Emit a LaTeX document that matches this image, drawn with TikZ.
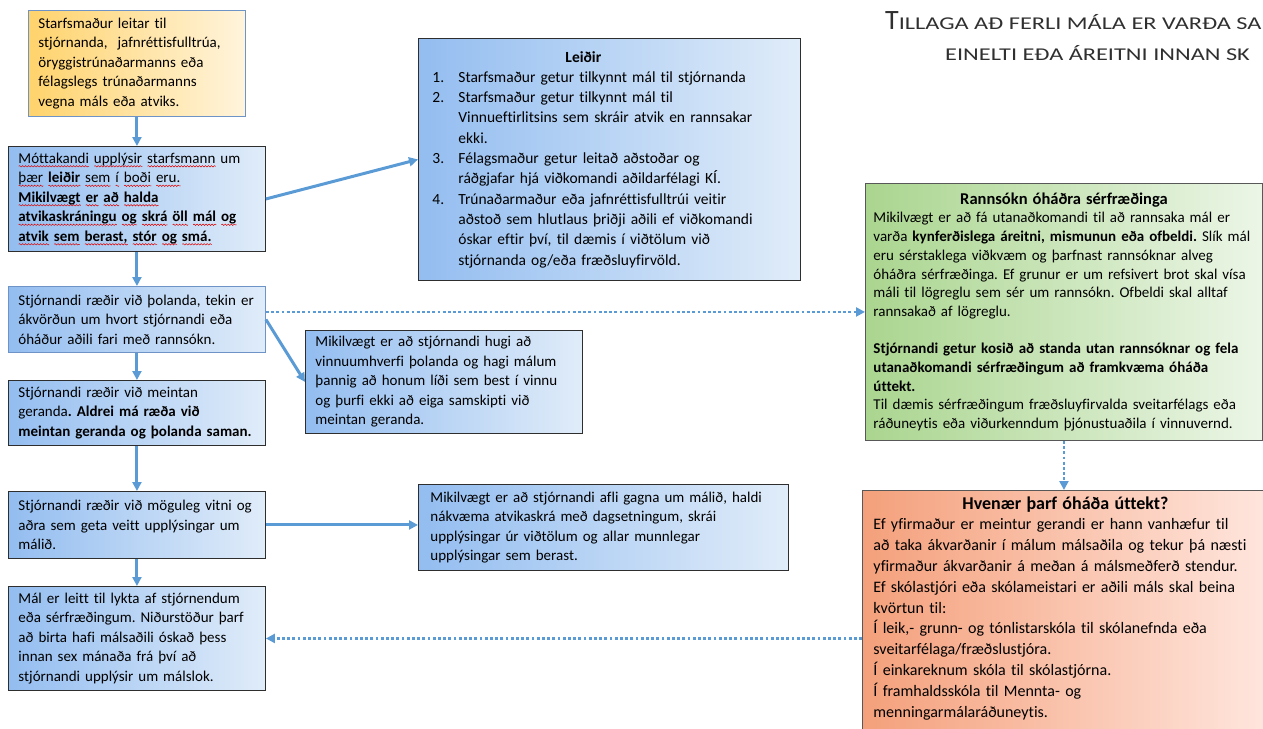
\documentclass[tikz,border=0pt]{standalone}
\usepackage{fontspec}
\setmainfont{Carlito}[Ligatures=NoCommon]
\usetikzlibrary{arrows.meta,decorations.pathmorphing,calc}
\frenchspacing
\definecolor{arrowblue}{HTML}{5B9BD5}
\definecolor{dk}{HTML}{2E2E2E}
\definecolor{bgline}{HTML}{6E93C6}
\definecolor{bL}{HTML}{93BDF0}
\definecolor{bR}{HTML}{E0ECF9}
\definecolor{yL}{HTML}{FFD36C}
\definecolor{yR}{HTML}{FFF4DC}
\definecolor{gL}{HTML}{AAD58F}
\definecolor{gR}{HTML}{ECF6E7}
\definecolor{oL}{HTML}{F4A07B}
\definecolor{oR}{HTML}{FFE6DE}
\definecolor{ttl}{HTML}{303030}
\newsavebox\sqbox
\newlength\sqlen
\newcommand\sq[1]{\sbox\sqbox{#1}\setlength\sqlen{\wd\sqbox}\leavevmode\rlap{\raisebox{-3.2pt}{\tikz[baseline=0pt]\draw[red!85!black,line width=0.5pt,decorate,decoration={snake,amplitude=0.7pt,segment length=3pt}] (0pt,0pt)--(\sqlen,0pt);}}\usebox\sqbox}
\newcommand\rs{\rightskip=0pt plus 1fil minus 30pt\relax}
\newcommand\lf{\frenchspacing\fontsize{15}{19.5}\selectfont}
\newcommand\mf{\frenchspacing\fontsize{15.5}{20.3}\selectfont}
\newcommand\gf{\frenchspacing\fontsize{15}{18.7}\selectfont}
\newcommand\of{\frenchspacing\fontsize{16}{20.8}\selectfont}
\begin{document}
\begin{tikzpicture}[x=1pt,y=-1pt,
  fb/.style={rectangle, line width=0.9pt, align=left, anchor=north west, inner ysep=2pt},
  bluebox/.style={fb, draw=dk, left color=bL, right color=bR},
  arr/.style={draw=arrowblue, line width=3pt, -{Triangle[length=9pt,width=9pt]}},
  dot/.style={draw=arrowblue, line width=2.8pt, dash pattern=on 2.8pt off 2.4pt, -{Triangle[length=9pt,width=9pt]}},
  ttlnode/.style={anchor=base west, inner sep=0pt, text=ttl}]
\useasboundingbox (0,0) rectangle (1263,728);

% title
\node[ttlnode] (T1) at (885,29) {\fontsize{28}{30}\selectfont T\scalebox{1.35}[1]{\fontsize{18}{20}\selectfont ILLAGA AÐ FERLI MÁLA ER VARÐA SA}};
\node[ttlnode] (T2) at (945,60) {\scalebox{1.35}[1]{\fontsize{18}{20}\selectfont EINELTI EÐA ÁREITNI INNAN SK}};

% left column
\node[fb, draw=bgline, left color=yL, right color=yR, font=\lf, inner xsep=10pt, text width=197pt, minimum height=106pt] (A) at (28,10)
 {\rs Starfsmaður leitar til\\ stjórnanda,\ \ jafnréttisfulltrúa,\\ öryggistrúnaðarmanns eða\\ félagslegs trúnaðarmanns\\ vegna máls eða atviks.};

\node[bluebox, font=\lf, inner xsep=10pt, text width=237pt, minimum height=105pt] (B) at (8,146)
 {\rs\sq{Móttakandi} \sq{upplýsir} \sq{starfsmann} um\\
  \sq{þær} \sq{\textbf{leiðir}} \sq{sem} \sq{í} \sq{boði} \sq{eru.}\\
  \sq{\textbf{Mikilvægt}} \sq{\textbf{er}} \sq{\textbf{að}} \sq{\textbf{halda}}\\
  \sq{\textbf{atvikaskráningu}} \sq{\textbf{og}} \sq{\textbf{skrá}} \sq{\textbf{öll}} \sq{\textbf{mál}} \sq{\textbf{og}}\\
  \sq{\textbf{atvik}} \sq{\textbf{sem}} \sq{\textbf{berast,}} \sq{\textbf{stór}} \sq{\textbf{og}} \sq{\textbf{smá.}}};

\node[fb, draw=bgline, left color=bL, right color=bR, font=\lf, inner xsep=10pt, text width=237pt, minimum height=66pt] (C) at (8,286)
 {\rs Stjórnandi ræðir við þolanda, tekin er\\ ákvörðun um hvort stjórnandi eða\\ óháður aðili fari með rannsókn.};

\node[bluebox, font=\lf, inner xsep=10pt, text width=237pt, minimum height=65pt] (D) at (8,380)
 {\rs Stjórnandi ræðir við meintan\\ geranda\textbf{. Aldrei má ræða við}\\ \textbf{meintan geranda og þolanda saman.}};

\node[bluebox, font=\lf, inner xsep=10pt, text width=237pt, minimum height=67pt] (E) at (8,491)
 {\rs Stjórnandi ræðir við möguleg vitni og\\ aðra sem geta veitt upplýsingar um\\ málið.};

\node[bluebox, font=\lf, inner xsep=10pt, text width=237pt, minimum height=104pt] (F) at (8,586)
 {\rs Mál er leitt til lykta af stjórnendum\\ eða sérfræðingum. Niðurstöður þarf\\ að birta hafi málsaðili óskað þess\\ innan sex mánaða frá því að\\ stjórnandi upplýsir um málslok.};

% middle column
\node[bluebox, font=\mf, inner xsep=14pt, text width=354pt, minimum height=242pt] (L) at (418,38)
 {\rs\hspace*{133pt}\textbf{Leiðir}\\
  \makebox[26pt][l]{1.}Starfsmaður getur tilkynnt mál til stjórnanda\\
  \makebox[26pt][l]{2.}Starfsmaður getur tilkynnt mál til\\
  \hspace*{26pt}Vinnueftirlitsins sem skráir atvik en rannsakar\\
  \hspace*{26pt}ekki.\\
  \makebox[26pt][l]{3.}Félagsmaður getur leitað aðstoðar og\\
  \hspace*{26pt}ráðgjafar hjá viðkomandi aðildarfélagi KÍ.\\
  \makebox[26pt][l]{4.}Trúnaðarmaður eða jafnréttisfulltrúi veitir\\
  \hspace*{26pt}aðstoð sem hlutlaus þriðji aðili ef viðkomandi\\
  \hspace*{26pt}óskar eftir því, til dæmis í viðtölum við\\
  \hspace*{26pt}stjórnanda og/eða fræðsluyfirvöld.};

\node[bluebox, font=\lf, inner xsep=10pt, text width=257pt, minimum height=103pt] (M1) at (305,330)
 {\rs Mikilvægt er að stjórnandi hugi að\\ vinnuumhverfi þolanda og hagi málum\\ þannig að honum líði sem best í vinnu\\ og þurfi ekki að eiga samskipti við\\ meintan geranda.};

\node[bluebox, font=\lf, inner xsep=12pt, text width=346pt, minimum height=86pt] (M2) at (418,484)
 {\rs Mikilvægt er að stjórnandi afli gagna um málið, haldi\\ nákvæma atvikaskrá með dagsetningum, skrái\\ upplýsingar úr viðtölum og allar munnlegar\\ upplýsingar sem berast.};

% right column
\node[fb, draw=dk!80, left color=gL, right color=gR, font=\gf, inner xsep=8pt, text width=381pt, minimum height=257pt] (G) at (865,183)
 {\rs\makebox[\linewidth]{\fontsize{16.5}{18.7}\selectfont\textbf{Rannsókn óháðra sérfræðinga}}\\
  Mikilvægt er að fá utanaðkomandi til að rannsaka mál er\\
  varða \textbf{kynferðislega áreitni, mismunun eða ofbeldi.} Slík mál\\
  eru sérstaklega viðkvæm og þarfnast rannsóknar alveg\\
  óháðra sérfræðinga. Ef grunur er um refsivert brot skal vísa\\
  máli til lögreglu sem sér um rannsókn. Ofbeldi skal alltaf\\
  rannsakað af lögreglu.\\[18.7pt]
  \textbf{Stjórnandi getur kosið að standa utan rannsóknar og fela}\\
  \textbf{utanaðkomandi sérfræðingum að framkvæma óháða}\\
  \textbf{úttekt.}\\
  Til dæmis sérfræðingum fræðsluyfirvalda sveitarfélags eða\\
  ráðuneytis eða viðurkenndum þjónustuaðila í vinnuvernd.};

\node[fb, draw=dk!80, left color=oL, right color=oR, font=\of, inner xsep=11pt, inner ysep=6pt, text width=384pt] (O) at (862,490)
 {\rs\makebox[\linewidth]{\fontsize{18}{20.8}\selectfont\textbf{Hvenær þarf óháða úttekt?}}\\
  Ef yfirmaður er meintur gerandi er hann vanhæfur til\\
  að taka ákvarðanir í málum málsaðila og tekur þá næsti\\
  yfirmaður ákvarðanir á meðan á málsmeðferð stendur.\\
  Ef skólastjóri eða skólameistari er aðili máls skal beina\\
  kvörtun til:\\
  Í leik,- grunn- og tónlistarskóla til skólanefnda eða\\
  sveitarfélaga/fræðslustjóra.\\
  Í einkareknum skóla til skólastjórna.\\
  Í framhaldsskóla til Mennta- og\\
  menningarmálaráðuneytis.\\
  \mbox{}};

% connectors
\draw[arr] (A.south) -- (B.north);
\draw[arr] (B.south) -- (C.north);
\draw[arr] (C.south) -- (D.north);
\draw[arr] (D.south) -- (E.north);
\draw[arr] (E.south) -- (F.north);
\draw[arr] (B.east) -- (L.west);
\draw[arr] (C.east) -- (M1.west);
\draw[arr] (E.east) -- (E.east -| M2.west);
\draw[dot] (C.east |- G.west) -- (G.west);
\draw[dot] (G.south) -- (G.south |- O.north);
\draw[dot] (O.west |- F.east) -- (F.east);
\end{tikzpicture}
\end{document}
